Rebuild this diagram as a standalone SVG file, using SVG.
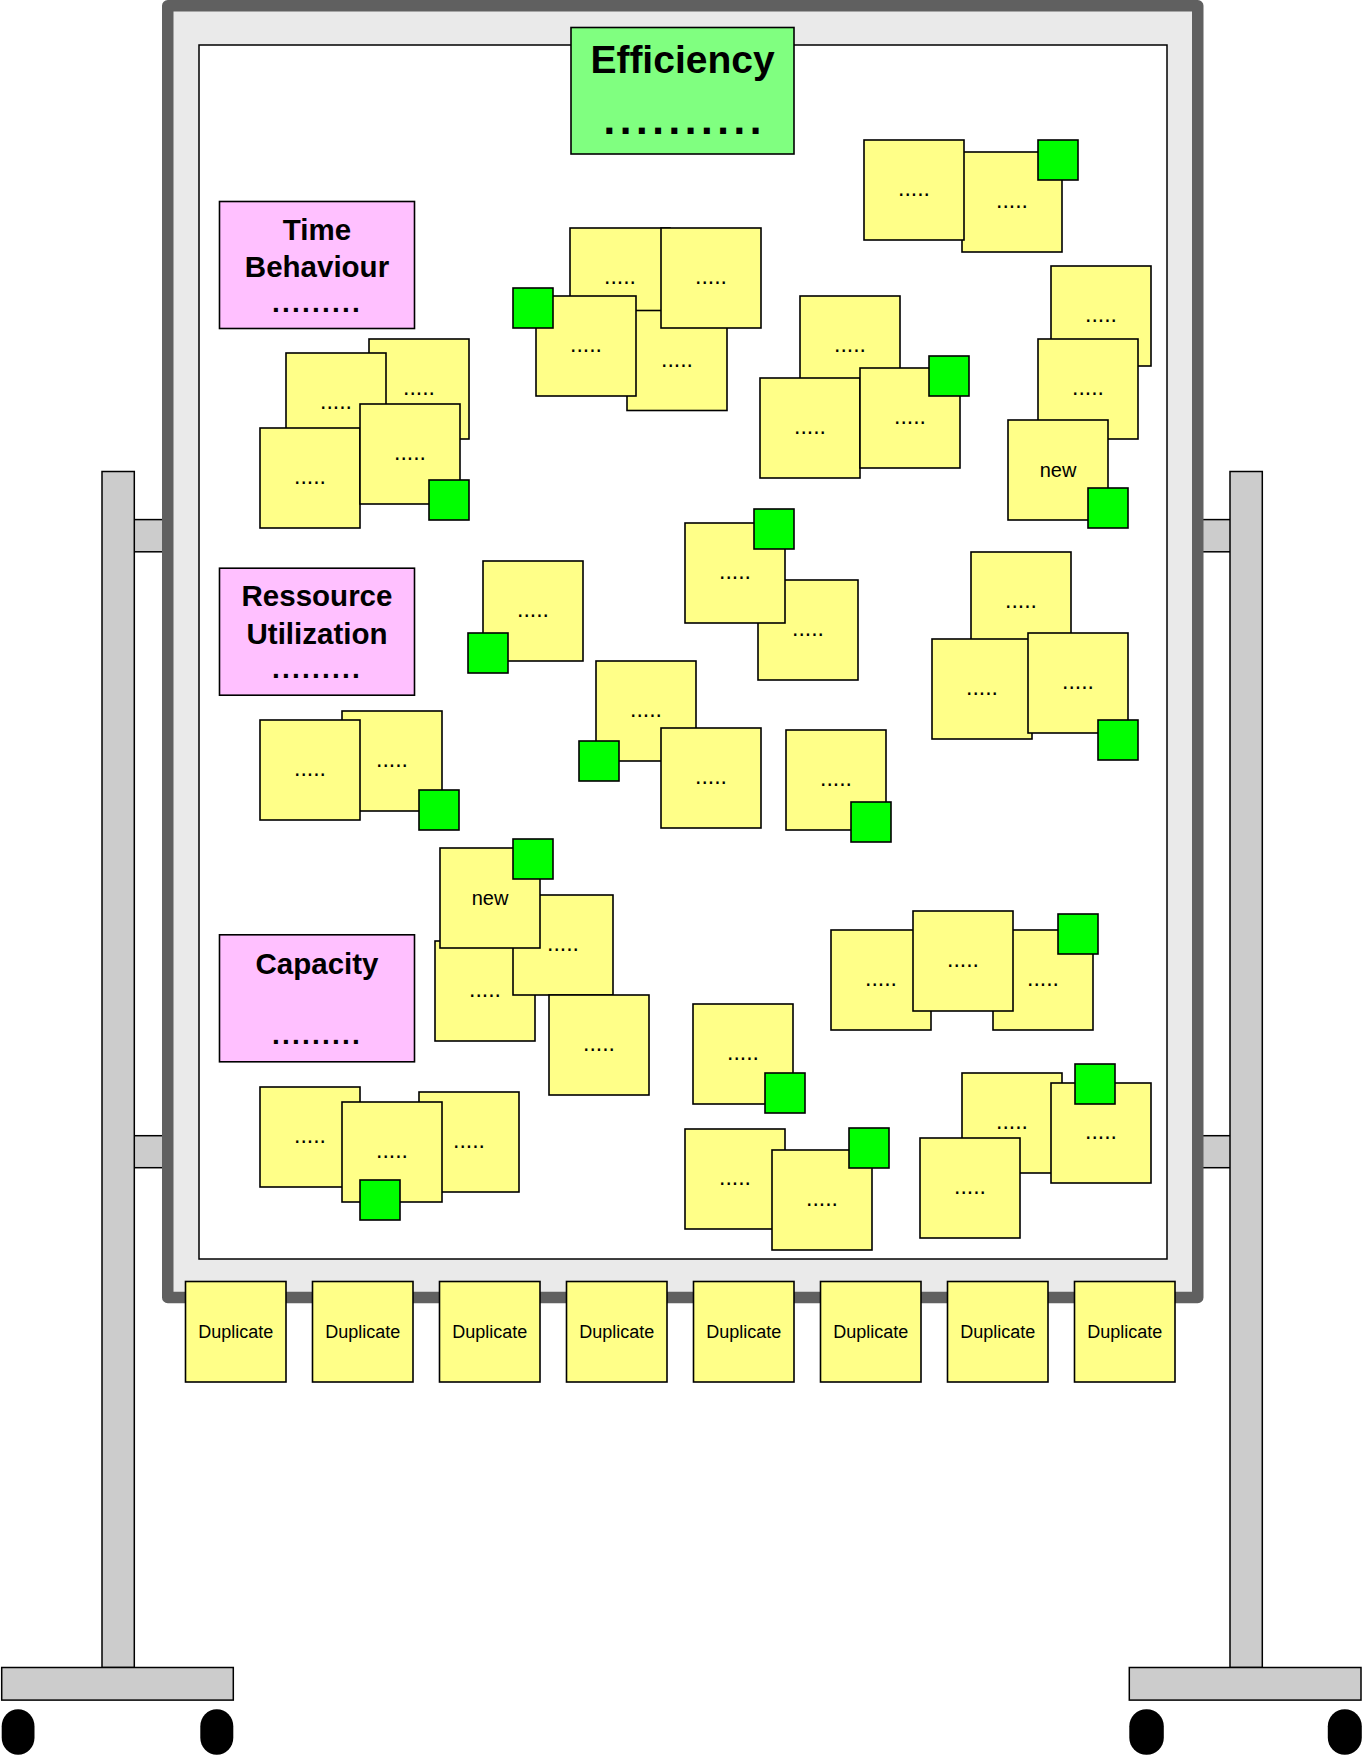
<svg xmlns="http://www.w3.org/2000/svg" width="1364" height="1756" viewBox="0 0 1364 1756">
<style>
.stand{fill:#cccccc;stroke:#000;stroke-width:1.5}
.wheel{fill:#000}
.n{fill:#ffff88;stroke:#000;stroke-width:1.6}
.g{fill:#00ff00;stroke:#000;stroke-width:1.6}
.lab{fill:#ffc0ff;stroke:#000;stroke-width:1.6}
.d{font-family:"Liberation Sans",Arial,sans-serif;font-size:23px;text-anchor:middle;fill:#000}
.t{font-family:"Liberation Sans",Arial,sans-serif;font-size:20px;text-anchor:middle;fill:#000}
.dup{font-family:"Liberation Sans",Arial,sans-serif;font-size:18px;text-anchor:middle;fill:#000}
.h{font-family:"Liberation Sans",Arial,sans-serif;font-size:29.5px;font-weight:bold;text-anchor:middle;fill:#000}
.hd{font-family:"Liberation Sans",Arial,sans-serif;font-size:28px;font-weight:bold;text-anchor:middle;letter-spacing:2.2px;fill:#000}
</style>
<g id="stand">
<rect class="stand" x="128" y="519.6" width="42" height="32.2"/>
<rect class="stand" x="128" y="1135.7" width="42" height="32"/>
<rect class="stand" x="1196" y="519.6" width="40" height="32.2"/>
<rect class="stand" x="1196" y="1135.7" width="40" height="32"/>
<rect class="stand" x="102" y="471.5" width="32.3" height="1196"/>
<rect class="stand" x="1230" y="471.5" width="32.3" height="1196"/>
<rect class="stand" x="1.7" y="1667.5" width="231.6" height="32.6"/>
<rect class="stand" x="1129.3" y="1667.5" width="231.7" height="32.6"/>
<rect class="wheel" x="1.7" y="1709.3" width="32.8" height="45.4" rx="16.4" ry="17"/>
<rect class="wheel" x="200.3" y="1709.3" width="33" height="45.4" rx="16.4" ry="17"/>
<rect class="wheel" x="1129.3" y="1709.3" width="34.5" height="45.4" rx="17" ry="17"/>
<rect class="wheel" x="1327.8" y="1709.3" width="34" height="45.4" rx="17" ry="17"/>
</g>
<g id="board">
<rect x="167.75" y="5.75" width="1030" height="1291.8" fill="#eaeaea" stroke="#606060" stroke-width="11.5" stroke-linejoin="round"/>
<rect x="199" y="45" width="968" height="1214" fill="#ffffff" stroke="#000" stroke-width="1.5"/>
</g>
<g id="connectors"></g>
<g id="efficiency">
<rect x="571" y="27.5" width="223" height="126.5" fill="#80ff80" stroke="#000" stroke-width="1.6"/>
<text x="682.5" y="73.3" font-family="Liberation Sans, Arial, sans-serif" font-size="39" font-weight="bold" text-anchor="middle">Efficiency</text>
<text x="684.8" y="134" font-family="Liberation Sans, Arial, sans-serif" font-size="42" font-weight="bold" text-anchor="middle" letter-spacing="4.6">..........</text>
</g>
<g id="time-behaviour">
<rect class="lab" x="219.5" y="201.5" width="195" height="127"/>
<text class="h" x="317" y="240">Time</text>
<text class="h" x="317" y="277.3">Behaviour</text>
<text class="hd" x="317" y="311.7">.........</text>
</g>
<g id="ressource-utilization">
<rect class="lab" x="219.5" y="568.2" width="195" height="127"/>
<text class="h" x="317" y="606">Ressource</text>
<text class="h" x="317" y="643.6">Utilization</text>
<text class="hd" x="317" y="678">.........</text>
</g>
<g id="capacity">
<rect class="lab" x="219.5" y="934.8" width="195" height="127"/>
<text class="h" x="317" y="974">Capacity</text>
<text class="hd" x="317" y="1043.6">.........</text>
</g>
<g id="cluster-top-mid">
<g id="nA"><rect class="n" x="570" y="228" width="100" height="100"/><text class="d" x="620" y="284">.....</text></g>
<g id="nC"><rect class="n" x="627" y="310.5" width="100" height="100"/><text class="d" x="677" y="366.5">.....</text></g>
<g id="nB"><rect class="n" x="661" y="228" width="100" height="100"/><text class="d" x="711" y="284">.....</text></g>
<g id="nD"><rect class="n" x="536" y="296" width="100" height="100"/><text class="d" x="586" y="352">.....</text></g>
<g id="g1"><rect class="g" x="513" y="288" width="40" height="40"/></g>
</g>
<g id="cluster-time">
<g id="nE"><rect class="n" x="369" y="339" width="100" height="100"/><text class="d" x="419" y="395">.....</text></g>
<g id="nF"><rect class="n" x="286" y="353" width="100" height="100"/><text class="d" x="336" y="409">.....</text></g>
<g id="nH"><rect class="n" x="260" y="428" width="100" height="100"/><text class="d" x="310" y="484">.....</text></g>
<g id="nI"><rect class="n" x="360" y="404" width="100" height="100"/><text class="d" x="410" y="460">.....</text></g>
<g id="g2"><rect class="g" x="429" y="480" width="40" height="40"/></g>
</g>
<g id="cluster-top-right">
<g id="nK"><rect class="n" x="962" y="152" width="100" height="100"/><text class="d" x="1012" y="208">.....</text></g>
<g id="nJ"><rect class="n" x="864" y="140" width="100" height="100"/><text class="d" x="914" y="196">.....</text></g>
<g id="g3"><rect class="g" x="1038" y="140" width="40" height="40"/></g>
</g>
<g id="cluster-right">
<g id="nL"><rect class="n" x="1051" y="266" width="100" height="100"/><text class="d" x="1101" y="322">.....</text></g>
<g id="nM"><rect class="n" x="1038" y="339" width="100" height="100"/><text class="d" x="1088" y="395">.....</text></g>
<g id="nN"><rect class="n" x="1008" y="420" width="100" height="100"/><text class="t" x="1058" y="477">new</text></g>
<g id="g4"><rect class="g" x="1088" y="488" width="40" height="40"/></g>
</g>
<g id="cluster-mid-right">
<g id="nO"><rect class="n" x="800" y="296" width="100" height="100"/><text class="d" x="850" y="352">.....</text></g>
<g id="nP"><rect class="n" x="760" y="378" width="100" height="100"/><text class="d" x="810" y="434">.....</text></g>
<g id="nQ"><rect class="n" x="860" y="368" width="100" height="100"/><text class="d" x="910" y="424">.....</text></g>
<g id="g5"><rect class="g" x="929" y="356" width="40" height="40"/></g>
</g>
<g id="cluster-s">
<g id="nS"><rect class="n" x="483" y="561" width="100" height="100"/><text class="d" x="533" y="617">.....</text></g>
<g id="g7"><rect class="g" x="468" y="633" width="40" height="40"/></g>
</g>
<g id="cluster-r">
<g id="nR2"><rect class="n" x="758" y="580" width="100" height="100"/><text class="d" x="808" y="636">.....</text></g>
<g id="nR"><rect class="n" x="685" y="523" width="100" height="100"/><text class="d" x="735" y="579">.....</text></g>
<g id="g6"><rect class="g" x="754" y="509" width="40" height="40"/></g>
</g>
<g id="cluster-ab">
<g id="nAB"><rect class="n" x="971" y="552" width="100" height="100"/><text class="d" x="1021" y="608">.....</text></g>
<g id="nAC"><rect class="n" x="932" y="639" width="100" height="100"/><text class="d" x="982" y="695">.....</text></g>
<g id="nAD"><rect class="n" x="1028" y="633" width="100" height="100"/><text class="d" x="1078" y="689">.....</text></g>
<g id="g11"><rect class="g" x="1098" y="720" width="40" height="40"/></g>
</g>
<g id="cluster-res">
<g id="nT"><rect class="n" x="342" y="711" width="100" height="100"/><text class="d" x="392" y="767">.....</text></g>
<g id="nU"><rect class="n" x="260" y="720" width="100" height="100"/><text class="d" x="310" y="776">.....</text></g>
<g id="g8"><rect class="g" x="419" y="790" width="40" height="40"/></g>
</g>
<g id="cluster-v">
<g id="nV"><rect class="n" x="596" y="661" width="100" height="100"/><text class="d" x="646" y="717">.....</text></g>
<g id="g9"><rect class="g" x="579" y="741" width="40" height="40"/></g>
<g id="nW"><rect class="n" x="661" y="728" width="100" height="100"/><text class="d" x="711" y="784">.....</text></g>
</g>
<g id="cluster-ae">
<g id="nAE"><rect class="n" x="786" y="730" width="100" height="100"/><text class="d" x="836" y="786">.....</text></g>
<g id="g12"><rect class="g" x="851" y="802" width="40" height="40"/></g>
</g>
<g id="cluster-new">
<g id="nZ"><rect class="n" x="435" y="941" width="100" height="100"/><text class="d" x="485" y="997">.....</text></g>
<g id="nY"><rect class="n" x="513" y="895" width="100" height="100"/><text class="d" x="563" y="951">.....</text></g>
<g id="nX"><rect class="n" x="440" y="848" width="100" height="100"/><text class="t" x="490" y="905">new</text></g>
<g id="g10"><rect class="g" x="513" y="839" width="40" height="40"/></g>
<g id="nAA"><rect class="n" x="549" y="995" width="100" height="100"/><text class="d" x="599" y="1051">.....</text></g>
</g>
<g id="cluster-af">
<g id="nAF"><rect class="n" x="831" y="930" width="100" height="100"/><text class="d" x="881" y="986">.....</text></g>
<g id="nAH"><rect class="n" x="993" y="930" width="100" height="100"/><text class="d" x="1043" y="986">.....</text></g>
<g id="nAG"><rect class="n" x="913" y="911" width="100" height="100"/><text class="d" x="963" y="967">.....</text></g>
<g id="g13"><rect class="g" x="1058" y="914" width="40" height="40"/></g>
</g>
<g id="cluster-ai">
<g id="nAI"><rect class="n" x="693" y="1004" width="100" height="100"/><text class="d" x="743" y="1060">.....</text></g>
<g id="g14"><rect class="g" x="765" y="1073" width="40" height="40"/></g>
</g>
<g id="cluster-aj">
<g id="nAJ"><rect class="n" x="962" y="1073" width="100" height="100"/><text class="d" x="1012" y="1129">.....</text></g>
<g id="nAK"><rect class="n" x="1051" y="1083" width="100" height="100"/><text class="d" x="1101" y="1139">.....</text></g>
<g id="g15"><rect class="g" x="1075" y="1064" width="40" height="40"/></g>
<g id="nAQ"><rect class="n" x="920" y="1138" width="100" height="100"/><text class="d" x="970" y="1194">.....</text></g>
</g>
<g id="cluster-cap">
<g id="nAL"><rect class="n" x="260" y="1087" width="100" height="100"/><text class="d" x="310" y="1143">.....</text></g>
<g id="nAN"><rect class="n" x="419" y="1092" width="100" height="100"/><text class="d" x="469" y="1148">.....</text></g>
<g id="nAM"><rect class="n" x="342" y="1102" width="100" height="100"/><text class="d" x="392" y="1158">.....</text></g>
<g id="g16"><rect class="g" x="360" y="1180" width="40" height="40"/></g>
</g>
<g id="cluster-ao">
<g id="nAO"><rect class="n" x="685" y="1129" width="100" height="100"/><text class="d" x="735" y="1185">.....</text></g>
<g id="nAP"><rect class="n" x="772" y="1150" width="100" height="100"/><text class="d" x="822" y="1206">.....</text></g>
<g id="g17"><rect class="g" x="849" y="1128" width="40" height="40"/></g>
</g>
<g id="duplicates">
<g id="dup1"><rect class="n" x="185.5" y="1281.5" width="100.5" height="100.5"/><text class="dup" x="235.7" y="1338.3">Duplicate</text></g>
<g id="dup2"><rect class="n" x="312.5" y="1281.5" width="100.5" height="100.5"/><text class="dup" x="362.7" y="1338.3">Duplicate</text></g>
<g id="dup3"><rect class="n" x="439.5" y="1281.5" width="100.5" height="100.5"/><text class="dup" x="489.7" y="1338.3">Duplicate</text></g>
<g id="dup4"><rect class="n" x="566.5" y="1281.5" width="100.5" height="100.5"/><text class="dup" x="616.7" y="1338.3">Duplicate</text></g>
<g id="dup5"><rect class="n" x="693.5" y="1281.5" width="100.5" height="100.5"/><text class="dup" x="743.7" y="1338.3">Duplicate</text></g>
<g id="dup6"><rect class="n" x="820.5" y="1281.5" width="100.5" height="100.5"/><text class="dup" x="870.7" y="1338.3">Duplicate</text></g>
<g id="dup7"><rect class="n" x="947.5" y="1281.5" width="100.5" height="100.5"/><text class="dup" x="997.7" y="1338.3">Duplicate</text></g>
<g id="dup8"><rect class="n" x="1074.5" y="1281.5" width="100.5" height="100.5"/><text class="dup" x="1124.7" y="1338.3">Duplicate</text></g>
</g>
</svg>
